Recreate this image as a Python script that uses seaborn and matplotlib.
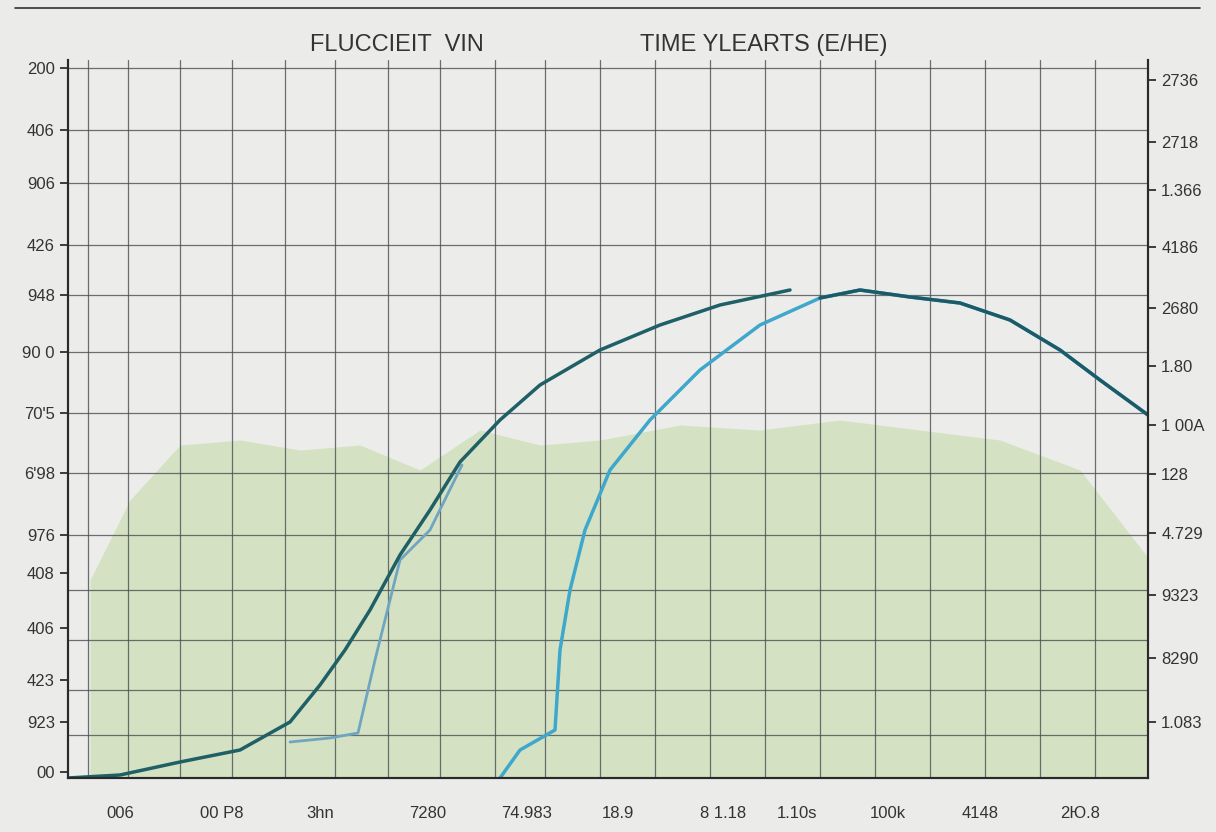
import matplotlib
matplotlib.use("Agg")
import matplotlib.pyplot as plt
import seaborn as sns
import numpy as np

sns.set_theme(style="white")
plt.rcParams['font.family'] = ['Liberation Sans', 'DejaVu Sans']

left_pos = [68, 130, 183, 245, 295, 352, 413, 473, 535, 573, 628, 680, 722, 772]
left_labels = ["200", "406", "906", "426", "948", "90 0", "70'5", "6'98", "976", "408", "406", "423", "923", "00"]
right_pos = [80, 142, 190, 247, 308, 366, 425, 474, 533, 595, 658, 722]
right_labels = ["2736", "2718", "1.366", "4186", "2680", "1.80", "1 00A", "128", "4.729", "9323", "8290", "1.083"]
x_pos = [120, 222, 320, 428, 527, 618, 723, 797, 888, 980, 1080]
x_labels = ["006", "00 P8", "3hn", "7280", "74.983", "18.9", "8 1.18", "1.10s", "100k", "4148", "2Ю.8"]

vgrid = [88, 128, 180, 232, 285, 335, 388, 440, 495, 545, 600, 655, 710, 765, 820, 875, 930, 985, 1040, 1095]
hgrid = [68, 130, 183, 245, 295, 352, 413, 473, 535, 590, 640, 690, 735]

dark_x = [68, 120, 180, 240, 290, 320, 345, 370, 400, 430, 460, 500, 540, 600, 660, 720, 790]
dark_y = [778, 775, 762, 750, 722, 685, 650, 610, 555, 510, 462, 420, 385, 350, 325, 305, 290]
blue_x = [500, 520, 555, 560, 570, 585, 610, 650, 700, 760, 820, 860, 910, 960, 1010, 1060, 1100, 1148]
blue_y = [778, 750, 730, 650, 590, 530, 470, 420, 370, 325, 298, 290, 297, 303, 320, 350, 380, 415]
side_x = [290, 330, 358, 375, 400, 430, 462]
side_y = [742, 738, 733, 660, 560, 530, 465]
green_x = [90, 130, 180, 240, 300, 360, 420, 480, 540, 600, 680, 760, 840, 920, 1000, 1080, 1150]
green_top = [580, 500, 445, 440, 450, 445, 470, 430, 445, 440, 425, 430, 420, 430, 440, 470, 560]

fig = plt.figure(figsize=(12.16, 8.32), dpi=100)
fig.patch.set_facecolor("#ebecea")
ax = fig.add_axes([68/1216, 1-778/832, (1148-68)/1216, (778-60)/832])
ax.set_facecolor("#ecedea")
ax.set_xlim(68, 1148)
ax.set_ylim(778, 60)

ax.fill_between(green_x, green_top, 778, color="#c4dcaa", alpha=0.6, lw=0)
for v in vgrid:
    ax.axvline(v, color="#4a4f54", lw=0.9, alpha=0.8)
for h in hgrid:
    ax.axhline(h, color="#4a4f54", lw=0.9, alpha=0.8)

ax.plot(side_x, side_y, color="#6fa5c0", lw=2)
ax.plot(dark_x, dark_y, color="#1f5f66", lw=2.5)
ax.plot(blue_x, blue_y, color="#3fa7cc", lw=2.5)
ax.plot(blue_x[-8:], blue_y[-8:], color="#1c5a68", lw=2.5)

ax.set_yticks(left_pos)
ax.set_yticklabels(left_labels, fontsize=12, color="#333")
ax.set_xticks(x_pos)
ax.set_xticklabels(x_labels, fontsize=12, color="#333")
ax.tick_params(axis="x", pad=14)
ax2 = ax.twinx()
ax2.set_ylim(778, 60)
ax2.set_yticks(right_pos)
ax2.set_yticklabels(right_labels, fontsize=12, color="#333")
for a in (ax, ax2):
    for s in a.spines.values():
        s.set_color("#2a2a2a")
        s.set_linewidth(1.5)
    a.spines["top"].set_visible(False)

fig.add_artist(plt.Line2D([15/1216, 1200/1216], [1-8/832, 1-8/832], color="#333", lw=1.2))
fig.text(310/1216, 1-45/832, "FLUCCIEIT  VIN", fontsize=17, color="#333", va="center")
fig.text(640/1216, 1-45/832, "TIME YLEARTS (E/HE)", fontsize=17, color="#333", va="center")

fig.savefig("out.png", dpi=100, facecolor=fig.get_facecolor())
